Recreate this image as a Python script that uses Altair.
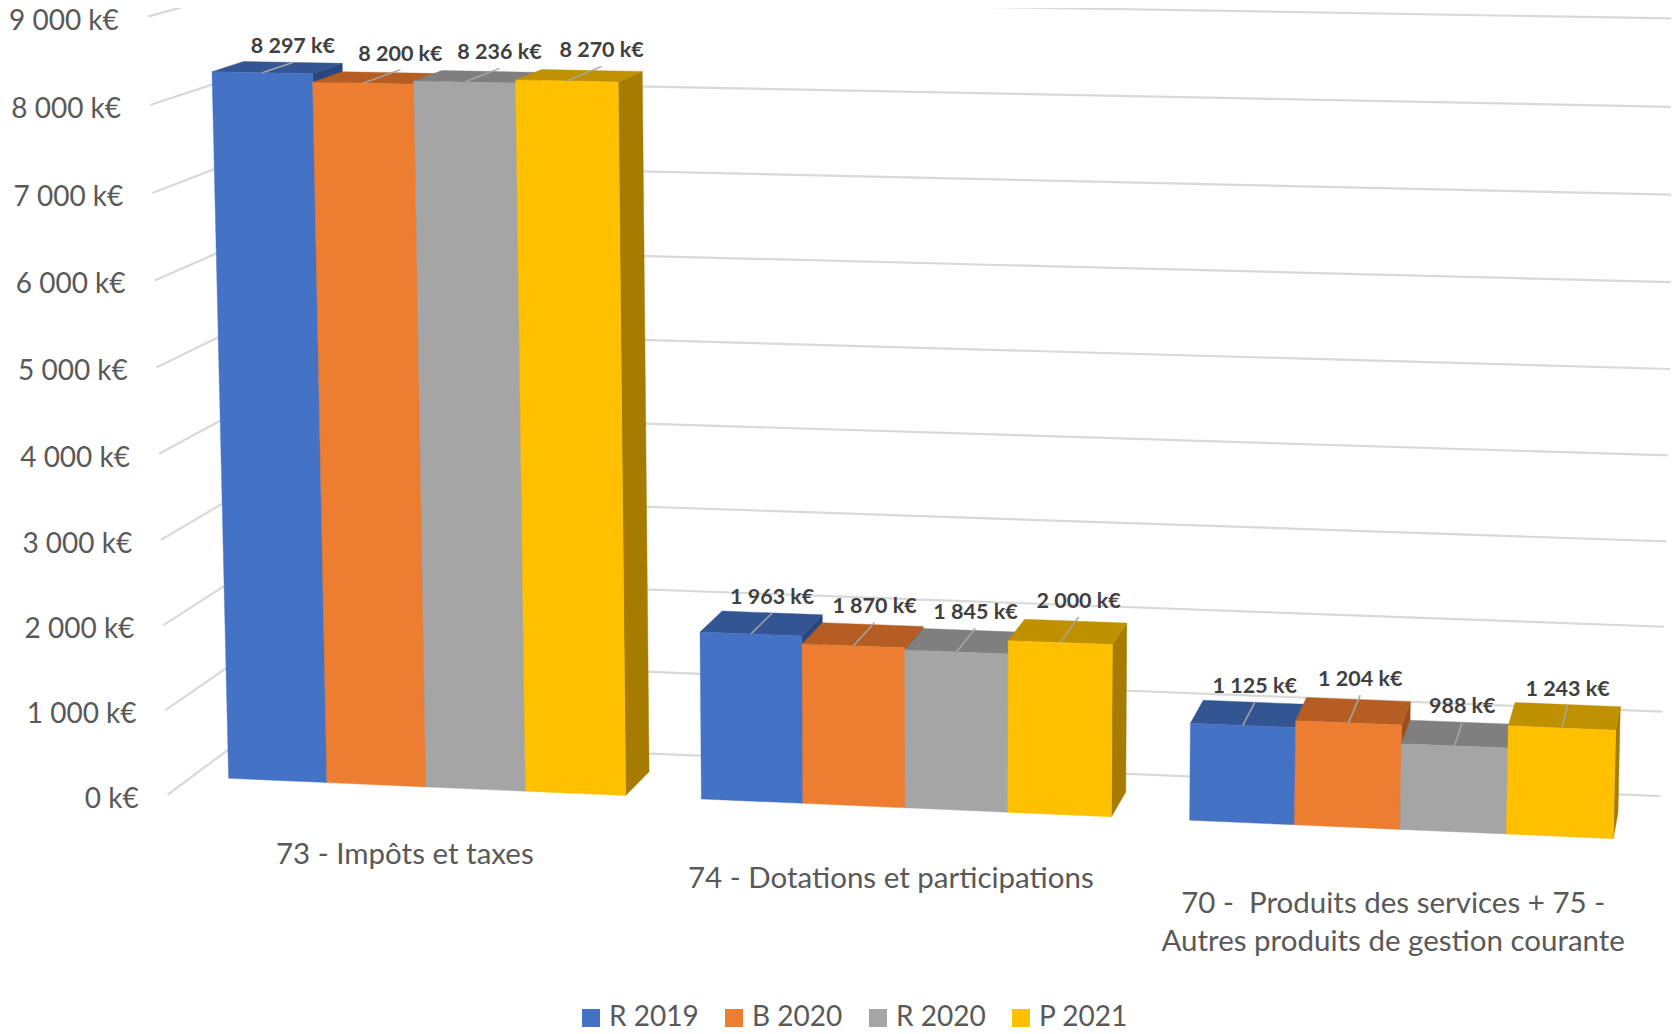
import altair as alt
import pandas as pd

# ---- chart values -------------------------------------------------------
categories = [
    "73 - Impôts et taxes",
    "74 - Dotations et participations",
    ["70 - \u00a0Produits des services + 75 -", "Autres produits de gestion courante"],
]
series = ["R 2019", "B 2020", "R 2020", "P 2021"]
r2019 = [8297, 1963, 1125]
b2020 = [8200, 1870, 1204]
r2020 = [8236, 1845, 988]
p2021 = [8270, 2000, 1243]
value_ticks = [0, 1000, 2000, 3000, 4000, 5000, 6000, 7000, 8000, 9000]

front_colors = ["#4472C4", "#ED7D31", "#A5A5A5", "#FFC000"]
top_colors = ["#335593", "#B55D22", "#7F7F7F", "#BF9000"]
side_colors = ["#2A4680", "#9C4F1B", "#666666", "#A67C00"]

FONT = "Lato"
W, H = 1663, 1026
GAP = 0.75  # gap between groups, in bar widths
DEPTH_FRONT, DEPTH_BACK = -0.75, 1.75  # floor extent, in bar depths
# how far the data-label leader runs over the bar top, in bar depths (series by group)
leader_reach = [[1.0, 1.3, 1.3, 1.4], [1.0, 1.1, 1.1, 1.2], [1.0, 1.2, 1.0, 1.0]]
cat_label_drop = [36, 38, 41]


def fr(n):
    return f"{n:,}".replace(",", " ") + " k€"


# ---- 3-D camera: (t along the categories, v in k€, d in depth) to page --
def cam(t, value, d):
    v = value / 1000
    w = 1 - 0.003338 * t - 0.002724 * v + 0.01924 * d
    return (
        (228.6 + 97.187 * t - 2.578 * v + 35.58 * d) / w,
        (778.3 + 1.674 * t - 85.36 * v - 8.8 * d) / w,
    )


T_LEFT, T_RIGHT = -GAP / 2, 3 * 4 + 2 * GAP + GAP / 2
table = [r2019, b2020, r2020, p2021]

polys, legend_rows, leaders, labels = [], [], [], []


def add_poly(name, color, corners):
    for k, (t, v, d) in enumerate(corners):
        x, y = cam(t, v, d)
        polys.append(dict(poly=name, k=k, x=x, y=y, color=color))


for g in range(len(categories)):
    for s, name in enumerate(series):
        t0 = g * (4 + GAP) + s
        t1 = t0 + 1
        val = table[s][g]
        pid = f"{g}-{s}"
        add_poly(pid + "side", side_colors[s],
                 [(t1, 0, 0), (t1, val, 0), (t1, val, 1), (t1, 0, 1)])
        add_poly(pid + "top", top_colors[s],
                 [(t0, val, 0), (t0, val, 1), (t1, val, 1), (t1, val, 0)])
        add_poly(pid + "front", front_colors[s],
                 [(t0, 0, 0), (t0, val, 0), (t1, val, 0), (t1, 0, 0)])
        mx, my = cam(t0 + 0.5, val / 2, 0)
        legend_rows.append(dict(series=name, x=mx, y=my))
        ax, ay = cam(t0 + 0.5, val, 0)
        bx, by = cam(t0 + 0.5, val, leader_reach[g][s])
        leaders.append(dict(id=pid, k=0, x=ax, y=ay))
        leaders.append(dict(id=pid, k=1, x=bx, y=by))
        labels.append(dict(x=bx, y=by, text=fr(val)))

grid, tick_labels = [], []
for v in value_ticks:
    path = [(T_LEFT, DEPTH_FRONT), (T_LEFT, DEPTH_BACK), (T_RIGHT, DEPTH_BACK)]
    for k, (t, d) in enumerate(path):
        x, y = cam(t, v, d)
        grid.append(dict(v=v, k=k, x=x, y=y))
    x, y = cam(T_LEFT, v, DEPTH_FRONT)
    tick_labels.append(dict(x=x, y=y, text=fr(v)))

cat_labels = []
for g, c in enumerate(categories):
    x, y = cam(g * (4 + GAP) + 2, 0, DEPTH_FRONT)
    cat_labels.append(dict(x=x, y=y + cat_label_drop[g], text=c))

xs = alt.Scale(domain=[8, 8 + W], range=[0, W])
ys = alt.Scale(domain=[8, 8 + H], range=[0, H])
X = alt.X("x:Q", scale=xs, axis=None)
Y = alt.Y("y:Q", scale=ys, axis=None)

legend_layer = alt.Chart(pd.DataFrame(legend_rows)).mark_square(size=20, opacity=1).encode(
    x=X, y=Y,
    color=alt.Color(
        "series:N",
        sort=series,
        scale=alt.Scale(domain=series, range=front_colors),
        legend=alt.Legend(
            title=None, orient="none", direction="horizontal", columns=4,
            legendX=577 - 8, legendY=1004 - 8,
            symbolType="square", symbolSize=324, symbolStrokeWidth=0,
            labelFont=FONT, labelFontSize=28, labelColor="#595959",
            labelOffset=4, columnPadding=21, symbolOffset=0,
        ),
    ),
)

grid_layer = alt.Chart(pd.DataFrame(grid)).mark_line(
    color="#D9D9D9", strokeWidth=2.2, clip=True
).encode(x=X, y=Y, detail="v:N", order="k:Q")

bar_layer = alt.Chart(pd.DataFrame(polys)).mark_line(
    interpolate="linear-closed", strokeWidth=0.4
).encode(
    x=X, y=Y, detail="poly:N", order="k:Q",
    fill=alt.Fill("color:N", scale=None),
    stroke=alt.Stroke("color:N", scale=None),
)

leader_layer = alt.Chart(pd.DataFrame(leaders)).mark_line(
    color="#A6A6A6", strokeWidth=1.5
).encode(x=X, y=Y, detail="id:N", order="k:Q")

label_layer = alt.Chart(pd.DataFrame(labels)).mark_text(
    font=FONT, fontSize=21.5, fontWeight="bold", color="#404040",
    align="center", baseline="middle", dy=-15,
).encode(x=X, y=Y, text="text:N")

tick_layer = alt.Chart(pd.DataFrame(tick_labels)).mark_text(
    font=FONT, fontSize=28, color="#595959",
    align="right", baseline="middle", dx=-29, dy=5,
).encode(x=X, y=Y, text="text:N")

cat_layer = alt.Chart(pd.DataFrame(cat_labels)).mark_text(
    font=FONT, fontSize=29.5, color="#595959",
    align="center", baseline="top", lineHeight=38.5,
).encode(x=X, y=Y, text="text:N")

chart = alt.layer(
    legend_layer, grid_layer, bar_layer, leader_layer,
    label_layer, tick_layer, cat_layer,
).properties(
    width=W, height=H, padding=0,
    autosize=alt.AutoSizeParams(type="none"),
).configure_view(stroke=None)

chart.save("out.html", embed_options={"renderer": "svg", "actions": False})
